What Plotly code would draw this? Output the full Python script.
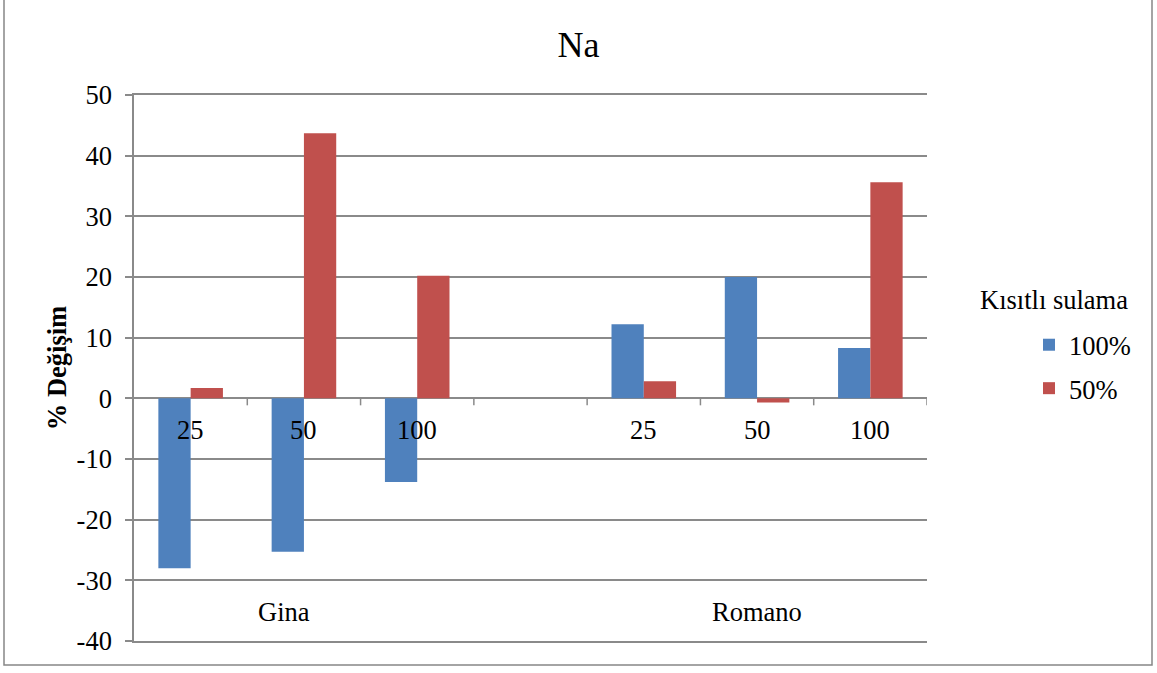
import plotly.graph_objects as go

categories = ["25", "50", "100", "", "25", "50", "100"]
groups = ["Gina", "Romano"]
group_pos = [0.82, 5.0]
series_names = ["100%", "50%"]
v100 = [-28.0, -25.3, -13.8, None, 12.2, 20.0, 8.3]
v50 = [1.7, 43.7, 20.2, None, 2.8, -0.7, 35.6]
y_ticks = [50, 40, 30, 20, 10, 0, -10, -20, -30, -40]

FONT = "Liberation Serif"
FS = 26.5
GRID = "#8a8a8a"
xs = list(range(len(categories)))

fig = go.Figure()
fig.add_trace(go.Bar(x=xs, y=v100, name=series_names[0], marker_color="#4F81BD",
                     marker_line_width=0, legendgroup="a"))
fig.add_trace(go.Bar(x=xs, y=v50, name=series_names[1], marker_color="#C0504D",
                     marker_line_width=0, legendgroup="b"))

W, H = 1157, 673
L, R, T, B = 134, 230, 95, 32
pw = W - L - R
ph = H - T - B

def px_x(p):
    return (p - L) / pw

def px_y(p):
    return (H - B - p) / ph

fig.update_layout(
    width=W, height=H,
    margin=dict(l=L, r=R, t=T, b=B, autoexpand=False),
    paper_bgcolor="white", plot_bgcolor="white",
    font=dict(family=FONT, size=FS, color="black"),
    barmode="group", bargap=0.43, bargroupgap=0,
    title=dict(text="Na", x=0.5, xref="container", y=1 - 44 / H, yref="container",
               xanchor="center", yanchor="middle", font=dict(size=36, family=FONT)),
    xaxis=dict(range=[-0.5, len(categories) - 0.5], showticklabels=False, showgrid=False,
               zeroline=False, showline=True, mirror=True, linecolor=GRID, linewidth=1.5,
               ticks="", fixedrange=True),
    yaxis=dict(range=[-40, 50], tickvals=y_ticks, ticktext=[str(v) for v in y_ticks],
               showgrid=True, gridcolor=GRID, gridwidth=1.5,
               zeroline=True, zerolinecolor=GRID, zerolinewidth=1.5,
               showline=True, linecolor=GRID, linewidth=1.5,
               ticks="outside", ticklen=7, tickcolor=GRID, tickwidth=1.5,
               ticklabelstandoff=8,
               tickfont=dict(size=FS, family=FONT),
               title=dict(text="<b>% Değişim</b>", standoff=2, font=dict(size=FS, family=FONT))),
    legend=dict(x=px_x(1029), y=px_y(321), xanchor="left", yanchor="top",
                font=dict(size=FS, family=FONT), traceorder="grouped", tracegroupgap=6,
                bgcolor="rgba(0,0,0,0)"),
    showlegend=True,
)

# category labels just below zero line
for i, c in enumerate(categories):
    if c:
        fig.add_annotation(x=i, y=0, xref="x", yref="y", text=c, showarrow=False,
                           yshift=-32, yanchor="middle", font=dict(size=FS, family=FONT))
# group labels
for g, gp in zip(groups, group_pos):
    fig.add_annotation(x=gp, y=px_y(612), xref="x", yref="paper", text=g, showarrow=False,
                       xanchor="center", yanchor="middle", font=dict(size=FS, family=FONT))

# legend title
fig.add_annotation(x=px_x(1054), y=px_y(300), xref="paper", yref="paper", text="Kısıtlı sulama",
                   showarrow=False, xanchor="center", yanchor="middle", font=dict(size=FS, family=FONT))

# tick marks on the zero line at category boundaries
for k in range(len(categories)):
    fig.add_shape(type="line", xref="x", yref="y", x0=k + 0.5, x1=k + 0.5,
                  ysizemode="pixel", yanchor=0, y0=0, y1=-7,
                  line=dict(color=GRID, width=1.5))

# outer chart border
fig.add_shape(type="rect", xref="paper", yref="paper",
              x0=px_x(4), x1=px_x(1152), y0=px_y(665), y1=px_y(-2),
              line=dict(color="#868686", width=1.5), fillcolor="rgba(0,0,0,0)")

fig.write_html("out.html", config={"displayModeBar": False},
               post_script="document.body.style.margin='0';document.body.style.overflow='hidden';")
